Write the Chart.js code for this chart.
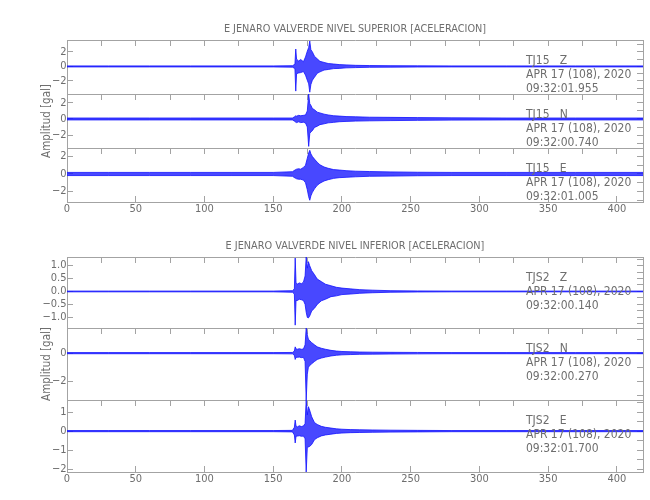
<!DOCTYPE html>
<html>
<head>
<meta charset="utf-8">
<title>E Jenaro Valverde - aceleracion</title>
<script src="https://cdn.jsdelivr.net/npm/chart.js@4.4.1/dist/chart.umd.min.js"></script>
<style>
  body { margin: 0; background: #fff; }
  #plots { position: relative; width: 650px; height: 500px; overflow: hidden; background: #fff; }
  #plots canvas { position: absolute; left: 0; }
</style>
</head>
<body>
<div id="plots"></div>
<script>
const topTitle = 'E JENARO VALVERDE NIVEL SUPERIOR [ACELERACION]';
const botTitle = 'E JENARO VALVERDE NIVEL INFERIOR [ACELERACION]';
const yTitle = 'Amplitud [gal]';
const dateText = 'APR 17 (108), 2020';
const topStations = ['TJ15   Z', 'TJ15   N', 'TJ15   E'];
const topStarts = ['09:32:01.955', '09:32:00.740', '09:32:01.005'];
const botStations = ['TJS2   Z', 'TJS2   N', 'TJS2   E'];
const botStarts = ['09:32:00.140', '09:32:00.270', '09:32:01.700'];

// time axis (s)
const xMax = 419;
const xTicks = [0, 25, 50, 75, 100, 125, 150, 175, 200, 225, 250, 275, 300, 325, 350, 375, 400];
const xLabels = [0, 50, 100, 150, 200, 250, 300, 350, 400];

// y ranges and ticks per trace
const topRanges = [[-3.8, 3.64], [-3.6, 3.1], [-3.2, 2.97]];
const botRanges = [[-1.41, 1.33], [-3.35, 1.8], [-2.14, 1.63]];
const topYTicks = [-3, -2, -1, 0, 1, 2, 3];
const topYLabels = [-2, 0, 2];
const b1YTicks = [-1.25, -1, -0.75, -0.5, -0.25, 0, 0.25, 0.5, 0.75, 1, 1.25];
const b1YLabels = [-1, -0.5, 0, 0.5, 1];
const b2YTicks = [-3, -2, -1, 0, 1];
const b2YLabels = [-2, 0];
const b3YTicks = [-2, -1.5, -1, -0.5, 0, 0.5, 1, 1.5];
const b3YLabels = [-2, -1, 0, 1];

// envelope of each trace (upper / lower peaks)
const tTop = [0, 30, 60, 90, 120, 150, 164, 165.8, 166.4, 167, 168.5, 170, 172, 173.5, 174.8, 175.8, 176.6, 177.4, 178.5, 180, 182, 184, 187, 190, 194, 198, 203, 210, 220, 235, 255, 280, 320, 370, 419];
const tj15ZUp = [0.07, 0.07, 0.07, 0.07, 0.07, 0.07, 0.1, 0.3, 2.4, 1.0, 0.75, 0.95, 0.65, 1.3, 2.1, 2.6, 3.5, 2.3, 2.0, 1.4, 1.05, 0.7, 0.55, 0.4, 0.33, 0.25, 0.21, 0.15, 0.12, 0.1, 0.08, 0.07, 0.07, 0.07, 0.07];
const tj15ZLo = [-0.07, -0.07, -0.07, -0.07, -0.07, -0.07, -0.1, -0.3, -3.4, -1.0, -0.9, -0.85, -0.7, -1.2, -1.9, -2.4, -3.55, -2.5, -1.9, -1.5, -0.95, -0.75, -0.5, -0.42, -0.3, -0.27, -0.2, -0.16, -0.12, -0.1, -0.08, -0.07, -0.07, -0.07, -0.07];
const tj15NUp = [0.12, 0.12, 0.12, 0.12, 0.12, 0.12, 0.12, 0.3, 0.4, 0.35, 0.45, 0.4, 0.45, 0.5, 1.0, 3.1, 1.9, 1.7, 1.3, 1.15, 0.85, 0.75, 0.6, 0.5, 0.4, 0.36, 0.3, 0.27, 0.22, 0.2, 0.17, 0.14, 0.12, 0.12, 0.12];
const tj15NLo = [-0.12, -0.12, -0.12, -0.12, -0.12, -0.12, -0.12, -0.3, -0.4, -0.45, -0.35, -0.45, -0.4, -0.5, -1.0, -3.4, -1.8, -1.6, -1.45, -1.05, -0.9, -0.7, -0.6, -0.48, -0.42, -0.34, -0.3, -0.26, -0.23, -0.2, -0.17, -0.14, -0.12, -0.12, -0.12];
const tj15EUp = [0.18, 0.18, 0.18, 0.18, 0.18, 0.18, 0.26, 0.45, 0.5, 0.55, 0.6, 0.55, 0.75, 1.0, 1.8, 2.4, 2.7, 2.3, 2.0, 1.7, 1.35, 1.05, 0.8, 0.65, 0.5, 0.45, 0.38, 0.32, 0.28, 0.24, 0.2, 0.18, 0.18, 0.18, 0.18];
const tj15ELo = [-0.18, -0.18, -0.18, -0.18, -0.18, -0.18, -0.26, -0.45, -0.5, -0.55, -0.6, -0.6, -0.7, -1.0, -1.8, -2.6, -3.0, -2.5, -2.1, -1.7, -1.3, -1.05, -0.8, -0.65, -0.5, -0.42, -0.38, -0.32, -0.26, -0.24, -0.2, -0.18, -0.18, -0.18, -0.18];

const tBot = [0, 30, 60, 90, 120, 150, 164, 165.4, 166, 166.6, 167.5, 169, 170.5, 172, 173.2, 174, 174.8, 175.6, 176.5, 178, 180, 182, 185, 188, 192, 196, 200, 206, 213, 222, 235, 255, 280, 320, 370, 419];
const tjs2ZUp = [0.015, 0.015, 0.015, 0.015, 0.015, 0.015, 0.03, 0.1, 1.29, 0.35, 0.28, 0.33, 0.3, 0.36, 0.6, 1.33, 0.9, 1.15, 1.0, 0.8, 0.65, 0.48, 0.38, 0.28, 0.22, 0.16, 0.13, 0.1, 0.07, 0.05, 0.03, 0.02, 0.015, 0.015, 0.015, 0.015];
const tjs2ZLo = [-0.015, -0.015, -0.015, -0.015, -0.015, -0.015, -0.03, -0.1, -1.3, -0.35, -0.35, -0.3, -0.32, -0.35, -0.5, -0.8, -1.0, -1.02, -0.95, -0.75, -0.65, -0.5, -0.36, -0.3, -0.2, -0.17, -0.12, -0.1, -0.07, -0.05, -0.03, -0.02, -0.015, -0.015, -0.015, -0.015];
const tjs2NUp = [0.04, 0.04, 0.04, 0.04, 0.04, 0.04, 0.05, 0.15, 0.45, 0.3, 0.28, 0.32, 0.28, 0.3, 0.6, 1.8, 1.3, 1.0, 0.9, 0.75, 0.6, 0.45, 0.35, 0.28, 0.2, 0.15, 0.12, 0.1, 0.08, 0.07, 0.06, 0.05, 0.04, 0.04, 0.04, 0.04];
const tjs2NLo = [-0.04, -0.04, -0.04, -0.04, -0.04, -0.04, -0.05, -0.15, -0.45, -0.3, -0.3, -0.28, -0.32, -0.3, -0.6, -3.35, -1.5, -1.0, -0.9, -0.75, -0.6, -0.45, -0.35, -0.28, -0.2, -0.15, -0.12, -0.1, -0.08, -0.07, -0.06, -0.05, -0.04, -0.04, -0.04, -0.04];
const tjs2EUp = [0.03, 0.03, 0.03, 0.03, 0.03, 0.03, 0.04, 0.2, 0.58, 0.27, 0.22, 0.28, 0.24, 0.27, 0.4, 1.63, 0.85, 1.28, 1.1, 0.75, 0.45, 0.35, 0.25, 0.2, 0.16, 0.12, 0.1, 0.08, 0.07, 0.06, 0.05, 0.04, 0.03, 0.03, 0.03, 0.03];
const tjs2ELo = [-0.03, -0.03, -0.03, -0.03, -0.03, -0.03, -0.04, -0.2, -0.62, -0.27, -0.26, -0.24, -0.27, -0.26, -0.4, -2.14, -0.85, -0.83, -0.8, -0.7, -0.45, -0.35, -0.25, -0.2, -0.16, -0.12, -0.1, -0.08, -0.07, -0.06, -0.05, -0.04, -0.03, -0.03, -0.03, -0.03];

// look
const FRAME = '#a3a3a3';
const TEXT = '#6e6e6e';
const TRACE = 'rgba(20,20,255,0.9)';
const TRACE_FILL = 'rgba(20,20,255,0.78)';
const FONT = "'Liberation Sans Narrow', 'DejaVu Sans Condensed', 'Liberation Sans', sans-serif";
const LEFT = 67, RIGHT = 643;

// pixel box of each panel [top, bottom]
const boxes = [[40, 94], [94, 148], [148, 202], [257, 328], [328, 400], [400, 472]];

Chart.defaults.font.family = FONT;
Chart.defaults.color = TEXT;

const stationText = {
    id: 'stationText',
    afterDatasetsDraw(chart, args, opts) {
        const {ctx, chartArea} = chart;
        ctx.save();
        ctx.font = '12px ' + FONT;
        ctx.fillStyle = TEXT;
        ctx.textBaseline = 'middle';
        opts.lines.forEach((s, i) => ctx.fillText(s, 526, chartArea.top + 21 + i * 14));
        ctx.restore();
    }
};

function fmt(v, dec) {
    const s = Math.abs(v).toFixed(dec);
    return v < 0 ? '\u2212' + s : s;
}

function setTicks(values) {
    return scale => {
        scale.ticks = values.filter(v => v >= scale.min && v <= scale.max).map(v => ({value: v}));
    };
}

const tickGrid = {drawOnChartArea: false, drawTicks: true, tickLength: -6, color: FRAME};
const frameBorder = {display: true, color: FRAME, width: 1};

function makePanel(p, box, pos, title) {
    const padTop = pos === 0 ? 40 : 22;
    const padBottom = pos === 2 ? 24 : 22;
    const canvas = document.createElement('canvas');
    canvas.width = 650;
    canvas.height = padTop + (box[1] - box[0]) + padBottom;
    canvas.style.top = (box[0] - padTop) + 'px';
    document.getElementById('plots').appendChild(canvas);

    new Chart(canvas, {
        type: 'line',
        data: {
            datasets: [
                {
                    data: p.t.map((x, i) => ({x, y: p.up[i]})),
                    xAxisID: 'x', yAxisID: 'y',
                    borderColor: TRACE, borderWidth: 0.9, pointRadius: 0, tension: 0, fill: false
                },
                {
                    data: p.t.map((x, i) => ({x, y: p.lo[i]})),
                    xAxisID: 'x', yAxisID: 'y',
                    borderColor: TRACE, borderWidth: 0.9, pointRadius: 0, tension: 0,
                    fill: '-1', backgroundColor: TRACE_FILL
                }
            ]
        },
        options: {
            responsive: false,
            animation: false,
            devicePixelRatio: 1,
            events: [],
            layout: {padding: {left: 0, right: 0, top: 0, bottom: pos === 2 ? 0 : padBottom}},
            plugins: {
                legend: {display: false},
                tooltip: {enabled: false},
                stationText: {lines: p.lines}
            },
            scales: {
                x: {
                    type: 'linear', position: 'bottom', display: pos === 2,
                    min: 0, max: xMax, bounds: 'data',
                    afterBuildTicks: setTicks(xTicks),
                    afterFit: s => { s.height = pos === 2 ? padBottom : 0; },
                    grid: tickGrid, border: frameBorder,
                    ticks: {
                        autoSkip: false, maxRotation: 0, padding: 7, font: {size: 11},
                        callback: v => xLabels.includes(v) ? String(v) : null
                    }
                },
                xTop: {
                    type: 'linear', position: 'top',
                    min: 0, max: xMax, bounds: 'data',
                    afterBuildTicks: setTicks(xTicks),
                    afterFit: s => { s.height = padTop; },
                    grid: tickGrid, border: frameBorder,
                    ticks: {display: false},
                    title: {display: pos === 0, text: title, padding: {top: 22.5, bottom: 0}, font: {size: 10.8}}
                },
                y: {
                    type: 'linear', position: 'left',
                    min: p.range[0], max: p.range[1], bounds: 'data',
                    afterBuildTicks: setTicks(p.yTicks),
                    afterFit: s => { s.width = LEFT; },
                    grid: tickGrid, border: frameBorder,
                    ticks: {
                        autoSkip: false, padding: 6.5, font: {size: 11},
                        callback: v => p.yLabels.includes(v) ? fmt(v, p.dec) : null
                    },
                    title: {display: pos === 1, text: yTitle, padding: {top: 40.5, bottom: 0}, font: {size: 11.5}}
                },
                yRight: {
                    type: 'linear', position: 'right',
                    min: p.range[0], max: p.range[1], bounds: 'data',
                    afterBuildTicks: setTicks(p.yTicks),
                    afterFit: s => { s.width = 650 - RIGHT; },
                    grid: tickGrid, border: frameBorder,
                    ticks: {display: false}
                }
            }
        },
        plugins: [stationText]
    });
}

const panels = [
    {t: tTop, up: tj15ZUp, lo: tj15ZLo, range: topRanges[0], yTicks: topYTicks, yLabels: topYLabels, dec: 0, lines: [topStations[0], dateText, topStarts[0]]},
    {t: tTop, up: tj15NUp, lo: tj15NLo, range: topRanges[1], yTicks: topYTicks, yLabels: topYLabels, dec: 0, lines: [topStations[1], dateText, topStarts[1]]},
    {t: tTop, up: tj15EUp, lo: tj15ELo, range: topRanges[2], yTicks: topYTicks, yLabels: topYLabels, dec: 0, lines: [topStations[2], dateText, topStarts[2]]},
    {t: tBot, up: tjs2ZUp, lo: tjs2ZLo, range: botRanges[0], yTicks: b1YTicks, yLabels: b1YLabels, dec: 1, lines: [botStations[0], dateText, botStarts[0]]},
    {t: tBot, up: tjs2NUp, lo: tjs2NLo, range: botRanges[1], yTicks: b2YTicks, yLabels: b2YLabels, dec: 0, lines: [botStations[1], dateText, botStarts[1]]},
    {t: tBot, up: tjs2EUp, lo: tjs2ELo, range: botRanges[2], yTicks: b3YTicks, yLabels: b3YLabels, dec: 0, lines: [botStations[2], dateText, botStarts[2]]}
];

panels.forEach((p, i) => makePanel(p, boxes[i], i % 3, i < 3 ? topTitle : botTitle));
</script>
</body>
</html>
